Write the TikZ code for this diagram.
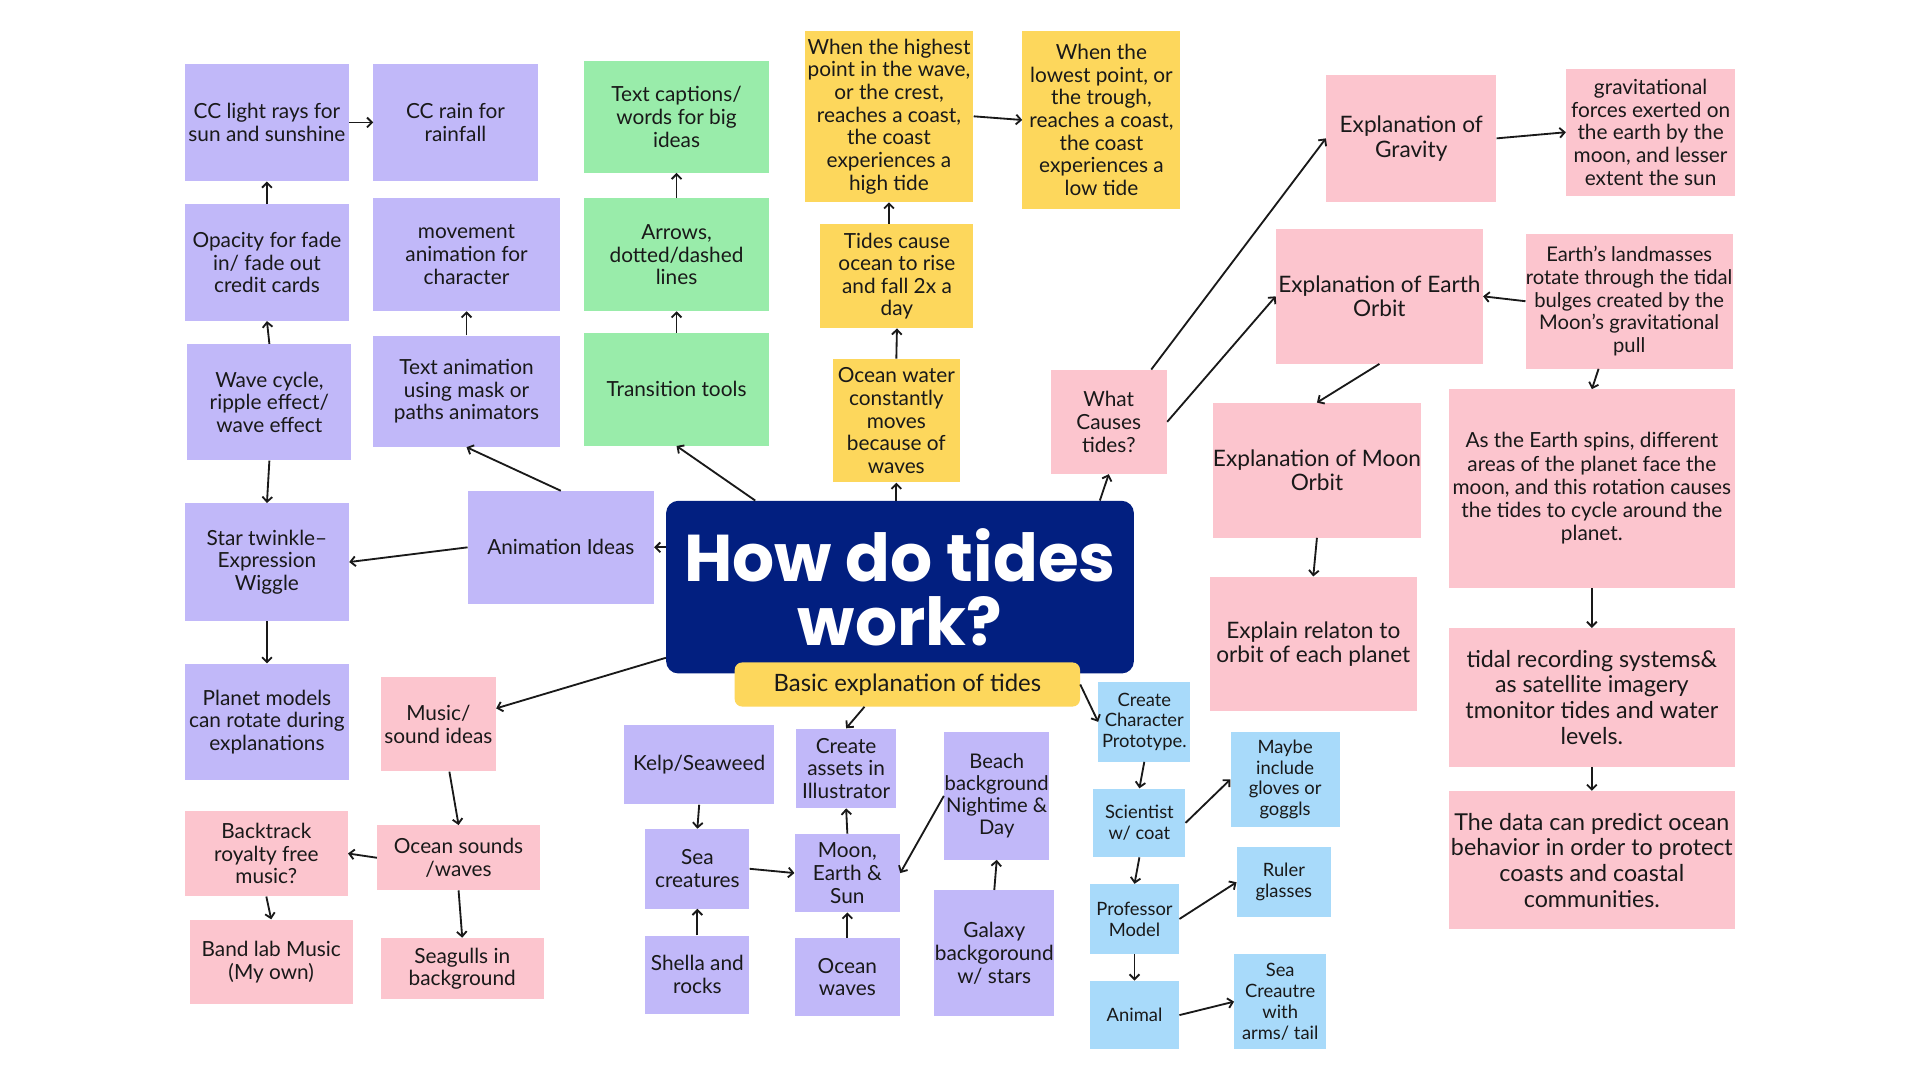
\documentclass[tikz,border=0pt]{standalone}
\usepackage{fontspec}
\setmainfont{Lato}
\newfontfamily\titlefont{Poppins}
\usetikzlibrary{arrows.meta}

\definecolor{lav}{RGB}{193,184,249}
\definecolor{rose}{RGB}{252,197,206}
\definecolor{sun}{RGB}{253,215,92}
\definecolor{mint}{RGB}{153,236,170}
\definecolor{sky}{RGB}{168,218,250}
\definecolor{navy}{RGB}{2,31,128}
\definecolor{ink}{RGB}{25,25,25}

\tikzset{
  card/.style={rectangle, inner sep=0pt, align=center, text=ink,
    font=\fontsize{17}{18.5}\selectfont},
  sz/.style 2 args={minimum width=#1pt, minimum height=#2pt},
  lavcard/.style={card, fill=lav},
  rosecard/.style={card, fill=rose},
  suncard/.style={card, fill=sun},
  mintcard/.style={card, fill=mint},
  skycard/.style={card, fill=sky, font=\fontsize{15}{17}\selectfont},
  midtxt/.style={font=\fontsize{18.5}{20}\selectfont},
  bigtxt/.style={font=\fontsize{19}{21}\selectfont},
  arr/.style={-{Straight Barb[length=4pt,width=8pt]}, line width=1.5pt, draw=ink},
}

\begin{document}
\begin{tikzpicture}[x=1pt, y=-1pt]
  % page
  \fill[white] (0,0) rectangle (1568,882);
  \useasboundingbox (0,0) rectangle (1568,882);

  % centre
  \node[fill=navy, rounded corners=10pt, sz={382}{141}, inner sep=0pt, align=center,
    text=white, font=\titlefont\bfseries\fontsize{54}{52}\selectfont] (main) at (735,479.5) {How do tides\\work?};
  \node[suncard, rounded corners=6pt, sz={282}{36}, font=\fontsize{19.5}{21}\selectfont] (basic) at (741,559) {Basic explanation of tides};

  % animation ideas (left)
  \node[lavcard, sz={134}{96}] (cclight) at (218,100) {CC light rays for\\sun and sunshine};
  \node[lavcard, sz={134}{96}] (ccrain) at (372,100) {CC rain for\\rainfall};
  \node[lavcard, sz={134}{95}] (opacity) at (218,214.5) {Opacity for fade\\in/ fade out\\credit cards};
  \node[lavcard, sz={134}{95}] (wave) at (220,328.5) {Wave cycle,\\ripple effect/\\wave effect};
  \node[lavcard, sz={134}{96}] (star) at (218,459) {Star twinkle–\\Expression\\Wiggle};
  \node[lavcard, sz={134}{95}] (planet) at (218,589.5) {Planet models\\can rotate during\\explanations};
  \node[lavcard, sz={152}{92}] (movement) at (381,208) {movement\\animation for\\character};
  \node[lavcard, sz={152}{91}] (textanim) at (381,319.5) {Text animation\\using mask or\\paths animators};
  \node[lavcard, sz={152}{92}] (anim) at (458,447) {Animation Ideas};
  \node[mintcard, sz={151}{91}] (captions) at (552.5,95.5) {Text captions/\\words for big\\ideas};
  \node[mintcard, sz={151}{92}] (dashes) at (552.5,208) {Arrows,\\dotted/dashed\\lines};
  \node[mintcard, sz={151}{92}] (transition) at (552.5,318) {Transition tools};

  % waves (top)
  \node[suncard, sz={138}{140}] (highest) at (726,95) {When the highest\\point in the wave,\\or the crest,\\reaches a coast,\\the coast\\experiences a\\high tide};
  \node[suncard, sz={129}{146}] (lowest) at (899.5,98) {When the\\lowest point, or\\the trough,\\reaches a coast,\\the coast\\experiences a\\low tide};
  \node[suncard, sz={125}{85}] (tides) at (732.5,225.5) {Tides cause\\ocean to rise\\and fall 2x a\\day};
  \node[suncard, sz={104}{101}] (ocean) at (732,343.5) {Ocean water\\constantly\\moves\\because of\\waves};

  % causes (right)
  \node[rosecard, sz={95}{85}] (causes) at (905.5,344.5) {What\\Causes\\tides?};
  \node[rosecard, midtxt, sz={139}{104}] (gravity) at (1152.5,113) {Explanation of\\Gravity};
  \node[rosecard, sz={138}{104}] (forces) at (1348,108) {gravitational\\forces exerted on\\the earth by the\\moon, and lesser\\extent the sun};
  \node[rosecard, midtxt, sz={169}{110}] (earthorbit) at (1126.5,242) {Explanation of Earth\\Orbit};
  \node[rosecard, sz={169}{110}, font=\fontsize{16.5}{18.5}\selectfont] (landmass) at (1330.5,246) {Earth's landmasses\\rotate through the tidal\\bulges created by the\\Moon's gravitational\\pull};
  \node[rosecard, midtxt, sz={169}{110}] (moonorbit) at (1075.5,384) {Explanation of Moon\\Orbit};
  \node[rosecard, midtxt, sz={169}{110}] (relation) at (1072.5,526) {Explain relaton to\\orbit of each planet};
  \node[rosecard, sz={234}{162}, font=\fontsize{17}{19}\selectfont] (spins) at (1300,399) {As the Earth spins, different\\areas of the planet face the\\moon, and this rotation causes\\the tides to cycle around the\\planet.};
  \node[rosecard, bigtxt, sz={234}{113}] (records) at (1300,569.5) {tidal recording systems\&\\as satellite imagery\\tmonitor tides and water\\levels.};
  \node[rosecard, bigtxt, sz={234}{113}] (predict) at (1300,702.5) {The data can predict ocean\\behavior in order to protect\\coasts and coastal\\communities.};

  % music (bottom left)
  \node[rosecard, sz={94}{77}] (music) at (358,591.5) {Music/\\sound ideas};
  \node[rosecard, sz={133}{53}] (sounds) at (374.5,700.5) {Ocean sounds\\/waves};
  \node[rosecard, sz={133}{70}] (backtrack) at (217.5,697) {Backtrack\\royalty free\\music?};
  \node[rosecard, sz={133}{69}] (bandlab) at (221.5,785.5) {Band lab Music\\(My own)};
  \node[rosecard, sz={133}{50}] (seagulls) at (377.5,791) {Seagulls in\\background};

  % assets (bottom)
  \node[lavcard, sz={122}{65}] (kelp) at (571,624.5) {Kelp/Seaweed};
  \node[lavcard, sz={85}{65}] (creatures) at (569.5,709.5) {Sea\\creatures};
  \node[lavcard, sz={85}{64}] (shells) at (569.5,796) {Shella and\\rocks};
  \node[lavcard, sz={82}{65}] (assets) at (691,627.5) {Create\\assets in\\Illustrator};
  \node[lavcard, sz={86}{64}] (planets) at (692,713) {Moon,\\Earth \&\\Sun};
  \node[lavcard, sz={86}{64}] (oceanwaves) at (692,798) {Ocean\\waves};
  \node[lavcard, sz={86}{104}, font=\fontsize{16.5}{18}\selectfont] (beach) at (814,650) {Beach\\background\\Nightime \&\\Day};
  \node[lavcard, sz={98}{103}] (galaxy) at (812,778.5) {Galaxy\\backgoround\\w/ stars};

  % characters
  \node[skycard, sz={75}{65}] (prototype) at (934.5,589.5) {Create\\Character\\Prototype.};
  \node[skycard, sz={75}{56}] (scientist) at (930.5,672) {Scientist\\w/ coat};
  \node[skycard, sz={73}{57}] (professor) at (926.5,750.5) {Professor\\Model};
  \node[skycard, sz={73}{56}] (animal) at (926.5,829) {Animal};
  \node[skycard, sz={89}{77}] (gloves) at (1049.5,636.5) {Maybe\\include\\gloves or\\goggls};
  \node[skycard, sz={77}{57}] (ruler) at (1048.5,720.5) {Ruler\\glasses};
  \node[skycard, sz={75}{78}] (seacreature) at (1045.5,818) {Sea\\Creautre\\with\\arms/ tail};

  % arrows
  \draw[arr] (cclight.east) -- (ccrain.west);
  \draw[arr] (opacity.north) -- (cclight.south);
  \draw[arr] (wave.north) -- (opacity.south);
  \draw[arr] (wave.south) -- (star.north);
  \draw[arr] (star.south) -- (planet.north);
  \draw[arr] (anim.west) -- (star.east);
  \draw[arr] (main.west |- anim.east) -- (anim.east);
  \draw[arr] (anim.north) -- (textanim.south);
  \draw[arr] (textanim.north) -- (movement.south);
  \draw[arr] ([xshift=73pt]main.north west) -- (transition.south);
  \draw[arr] (transition.north) -- (dashes.south);
  \draw[arr] (dashes.north) -- (captions.south);
  \draw[arr] (ocean.south |- main.north) -- (ocean.south);
  \draw[arr] (ocean.north) -- (tides.south);
  \draw[arr] (highest.south |- tides.north) -- (highest.south);
  \draw[arr] (highest.east) -- (lowest.west);
  \draw[arr] ([xshift=-28pt]main.north east) -- (causes.south);
  \draw[arr] ([xshift=-13pt]causes.north east) -- (gravity.west);
  \draw[arr] (causes.east) -- (earthorbit.west);
  \draw[arr] (gravity.east) -- (forces.west);
  \draw[arr] (landmass.west) -- (earthorbit.east);
  \draw[arr] (earthorbit.south) -- (moonorbit.north);
  \draw[arr] (moonorbit.south) -- (relation.north);
  \draw[arr] ([xshift=-25pt]landmass.south) -- (spins.north);
  \draw[arr] (spins.south) -- (records.north);
  \draw[arr] (records.south) -- (predict.north);
  \draw[arr] ([yshift=13pt]main.south west) -- ([yshift=13pt]music.east);
  \draw[arr] ([xshift=9pt]music.south) -- (sounds.north);
  \draw[arr] (sounds.west) -- (backtrack.east);
  \draw[arr] (backtrack.south) -- (bandlab.north);
  \draw[arr] (sounds.south) -- (seagulls.north);
  \draw[arr] ([xshift=-35pt]basic.south) -- (assets.north);
  \draw[arr] (basic.east) -- (prototype.west);
  \draw[arr] (prototype.south) -- (scientist.north);
  \draw[arr] (scientist.east) -- (gloves.west);
  \draw[arr] (scientist.south) -- (professor.north);
  \draw[arr] (professor.east) -- (ruler.west);
  \draw[arr] (professor.south) -- (animal.north);
  \draw[arr] (animal.east) -- (seacreature.west);
  \draw[arr] (kelp.south) -- (creatures.north);
  \draw[arr] (shells.north) -- (creatures.south);
  \draw[arr] (creatures.east) -- (planets.west);
  \draw[arr] (oceanwaves.north) -- (planets.south);
  \draw[arr] (planets.north) -- (assets.south);
  \draw[arr] (beach.west) -- (planets.east);
  \draw[arr] (galaxy.north) -- (beach.south);
\end{tikzpicture}
\end{document}
